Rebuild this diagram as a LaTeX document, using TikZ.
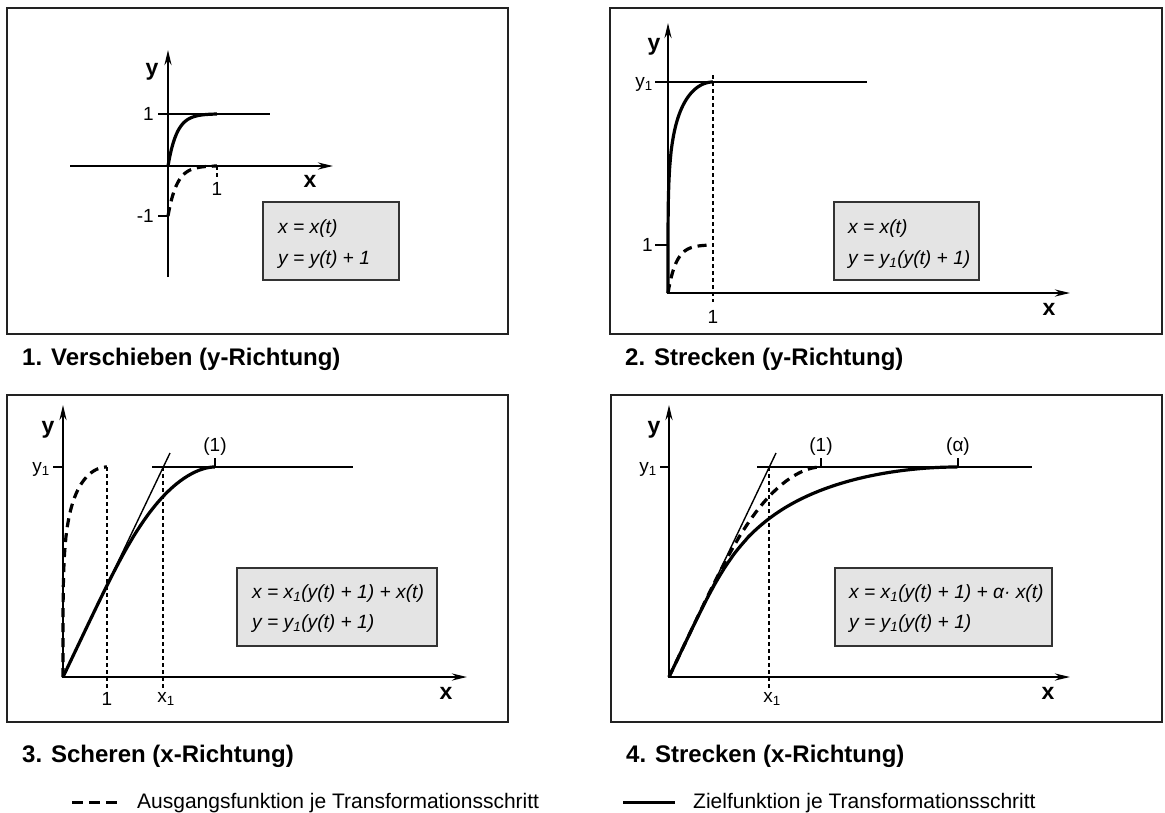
\documentclass[tikz,border=0pt]{standalone}
\usepackage{fontspec}
\setmainfont{Liberation Sans}
\usetikzlibrary{arrows.meta}
\definecolor{framec}{HTML}{222222}
\definecolor{boxfill}{HTML}{E4E4E4}
\definecolor{boxline}{HTML}{333333}
\tikzset{
  panelbox/.style={draw=framec, line width=2pt},
  axisline/.style={line width=2.4pt, line join=miter, {Stealth[length=15pt,width=7pt]}-{Stealth[length=15pt,width=7pt]}},
  thinl/.style={line width=1.4pt},
  vdash/.style={line width=1.3pt, dash pattern=on 4pt off 3pt},
  solidcurve/.style={line width=3.2pt, line join=round},
  dashcurve/.style={line width=3.2pt, dash pattern=on 9pt off 6pt},
  formbox/.style={draw=boxline, fill=boxfill, line width=2pt},
  ftext/.style={font=\fontsize{19.2}{23}\selectfont\itshape, anchor=base west, inner sep=0pt},
  lab/.style={font=\fontsize{19}{22}\selectfont, inner sep=0pt},
  axlab/.style={font=\fontsize{23}{26}\selectfont\bfseries, inner sep=0pt},
  ptitle/.style={font=\fontsize{24}{28}\selectfont\bfseries, anchor=base west, inner sep=0pt},
  legtext/.style={font=\fontsize{21}{25}\selectfont, anchor=base west, inner sep=0pt}
}
\begin{document}
\begin{tikzpicture}[x=1pt, y=-1pt,
  declare function={gg(\s)=(\s*(2-\s))^0.2; hh(\s)=(1-exp(-5.5*\s))/(1-exp(-5.5));}]
\useasboundingbox (0,0) rectangle (1165,812);

% ---------------- Panel 1 ----------------
\draw[panelbox] (7,8) rectangle (508,334);
\draw[line width=2.4pt, -{Stealth[length=15pt,width=7pt]}] (168,277) -- (168,50);
\draw[line width=2.4pt, -{Stealth[length=15pt,width=7pt]}] (70,166) -- (333,166);
\node[axlab] (p1y) at (152,72) {y};
\node[axlab] (p1x) at (310,181) {x};
\draw[thinl] (158,114) -- (270,114);
\draw[thinl] (158,216) -- (168,216);
\draw[vdash] (217,166) -- (217,178);
\node[lab, anchor=east] (p1one) at (154,114) {1};
\node[lab, anchor=east] (p1mone) at (154,216) {-1};
\node[lab] (p1xone) at (217,189) {1};
\draw[solidcurve] plot[domain=0:1, samples=60, variable=\s] ({168+49*\s},{166-52*hh(\s)});
\draw[dashcurve] plot[domain=0:1, samples=60, variable=\s] ({168+49*\s},{216-50*hh(\s)});
\draw[formbox] (263,202) rectangle (399,280);
\node[ftext] (f1a) at (278,233) {x = x(t)};
\node[ftext] (f1b) at (278,264) {y = y(t) + 1};

% ---------------- Panel 2 ----------------
\draw[panelbox] (610,8) rectangle (1162,334);
\draw[axisline] (668,23) -- (668,293) -- (1070,293);
\node[axlab] (p2y) at (654,47) {y};
\node[axlab] (p2x) at (1049,309) {x};
\draw[thinl] (655,82) -- (867,82);
\draw[thinl] (655,245) -- (668,245);
\draw[vdash] (713,75) -- (713,302);
\node[lab, anchor=east] (p2y1) at (653,84) {y\textsubscript{1}};
\node[lab, anchor=east] (p2one) at (653,245) {1};
\node[lab] (p2xone) at (713,317) {1};
\draw[solidcurve] (668,293) -- plot[domain=0.06:1, samples=80, variable=\u] ({668+45*\u^3},{293-211*gg(\u^3)});
\draw[dashcurve] plot[domain=0:1, samples=60, variable=\s] ({668+45*\s},{293-48*hh(\s)});
\draw[formbox] (834,202) rectangle (979,280);
\node[ftext] (f2a) at (848,233) {x = x(t)};
\node[ftext] (f2b) at (848,264) {y = y\textsubscript{1}(y(t) + 1)};

% ---------------- Panel 3 ----------------
\draw[panelbox] (7,395) rectangle (508,722);
\draw[axisline] (63,405) -- (63,677) -- (467,677);
\node[axlab] (p3y) at (48,430) {y};
\node[axlab] (p3x) at (446,693) {x};
\draw[thinl] (53,467) -- (63,467);
\draw[thinl] (152,467) -- (353,467);
\node[lab, anchor=east] (p3y1) at (50,469) {y\textsubscript{1}};
\draw[vdash] (107,467) -- (107,688);
\draw[vdash] (163,467) -- (163,688);
\node[lab] (p3one) at (107,699) {1};
\node[lab] (p3x1) at (166,699) {x\textsubscript{1}};
\draw[thinl] (63,677) -- (170,453);
\draw[thinl] (215,458) -- (215,467);
\node[lab] (p3p1) at (215,447) {(1)};
\draw[dashcurve] (63,677) -- plot[domain=0.06:1, samples=80, variable=\u] ({63+44*\u^3},{677-210*gg(\u^3)});
\draw[solidcurve] (63,677) -- plot[domain=0.06:1, samples=80, variable=\u] ({63+100*gg(\u^3)+52*\u^3},{677-210*gg(\u^3)});
\draw[formbox] (237,568) rectangle (437,646);
\node[ftext] (f3a) at (252,598) {x = x\textsubscript{1}(y(t) + 1) + x(t)};
\node[ftext] (f3b) at (252,628) {y = y\textsubscript{1}(y(t) + 1)};

% ---------------- Panel 4 ----------------
\draw[panelbox] (611,395) rectangle (1162,722);
\draw[axisline] (669,405) -- (669,677) -- (1070,677);
\node[axlab] (p4y) at (654,430) {y};
\node[axlab] (p4x) at (1048,693) {x};
\draw[thinl] (660,467) -- (669,467);
\draw[thinl] (757,467) -- (1032,467);
\node[lab, anchor=east] (p4y1) at (657,469) {y\textsubscript{1}};
\draw[vdash] (769,467) -- (769,688);
\node[lab] (p4x1) at (772,699) {x\textsubscript{1}};
\draw[thinl] (669,677) -- (776,453);
\draw[thinl] (821,458) -- (821,467);
\draw[thinl] (958,458) -- (958,467);
\node[lab] (p4p1) at (821,447) {(1)};
\node[lab] (p4pa) at (958,447) {(α)};
\draw[dashcurve] (669,677) -- plot[domain=0.06:1, samples=80, variable=\u] ({669+100*gg(\u^3)+52*\u^3},{677-210*gg(\u^3)});
\draw[solidcurve] (669,677) -- plot[domain=0.06:1, samples=80, variable=\u] ({669+100*gg(\u^3)+189*\u^3},{677-210*gg(\u^3)});
\draw[formbox] (835,568) rectangle (1052,646);
\node[ftext] (f4a) at (849,598) {x = x\textsubscript{1}(y(t) + 1) + α· x(t)};
\node[ftext] (f4b) at (849,628) {y = y\textsubscript{1}(y(t) + 1)};

% ---------------- Titles and legend ----------------
\node[ptitle] (t1) at (22,365) {1. Verschieben (y-Richtung)};
\node[ptitle] (t2) at (625,365) {2. Strecken (y-Richtung)};
\node[ptitle] (t3) at (22,762) {3. Scheren (x-Richtung)};
\node[ptitle] (t4) at (626,762) {4. Strecken (x-Richtung)};
\draw[line width=3pt, dash pattern=on 11pt off 6pt] (72,802) -- (117,802);
\node[legtext] (lg1) at (137,808) {Ausgangsfunktion je Transformationsschritt};
\draw[line width=3pt] (623,802) -- (675,802);
\node[legtext] (lg2) at (693,808) {Zielfunktion je Transformationsschritt};
\end{tikzpicture}
\end{document}
